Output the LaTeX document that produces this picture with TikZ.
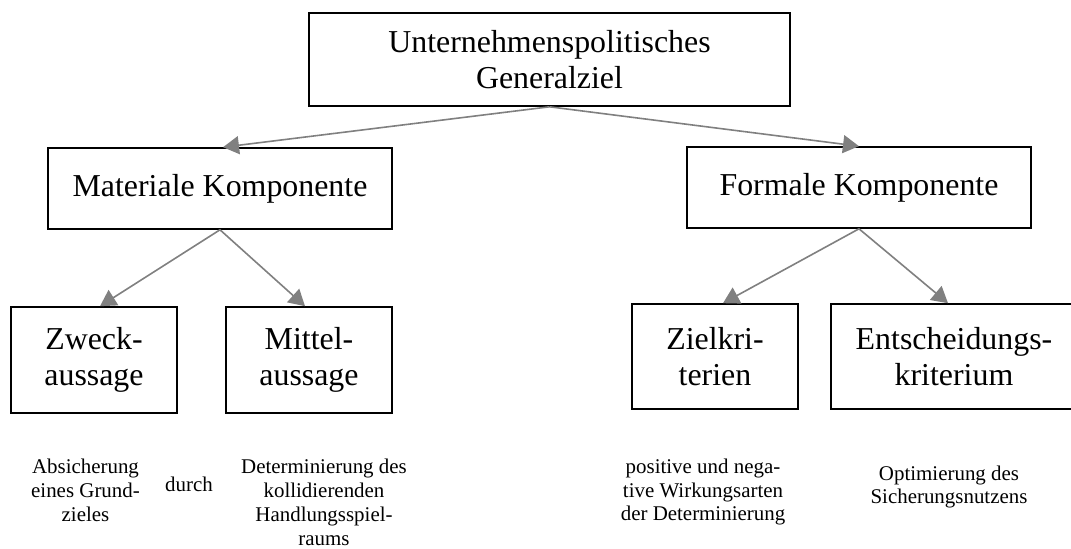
\documentclass[tikz,border=0pt]{standalone}
\usepackage{fontspec}
\setmainfont{Liberation Serif}
\usetikzlibrary{arrows.meta}
\begin{document}
\begin{tikzpicture}[x=1bp,y=-1bp,
  bx/.style={draw=black, line width=1.6bp, inner sep=0pt, align=center,
    font=\fontsize{32}{36}\selectfont},
  lbl/.style={inner sep=0pt, align=center, font=\fontsize{21}{24}\selectfont},
  conn/.style={draw=gray, line width=1.6bp, -{Triangle[length=16bp,width=18bp]}}]
\clip (0,0) rectangle (1071,549);
\fill[white] (0,0) rectangle (1071,549);
% boxes
\node[bx, minimum width=481bp, minimum height=93bp] (top) at (549.5,59.5) {Unternehmenspolitisches\\Generalziel};
\node[bx, minimum width=344bp, minimum height=81bp] (mat) at (220,188.5) {Materiale Komponente};
\node[bx, minimum width=344bp, minimum height=81bp] (form) at (859,187.5) {Formale Komponente};
\node[bx, minimum width=166bp, minimum height=106bp] (zweck) at (94,360) {Zweck-\\aussage};
\node[bx, minimum width=166bp, minimum height=106bp] (mittel) at (309,360) {Mittel-\\aussage};
\node[bx, minimum width=166bp, minimum height=105bp] (ziel) at (715,356.5) {Zielkri-\\terien};
\node[bx, minimum width=246bp, minimum height=105bp] (ents) at (954,356.5) {Entscheidungs-\\kriterium};
% connectors
\draw[conn] (top.south) -- ([xshift=3bp]mat.north);
\draw[conn] (top.south) -- (form.north);
\draw[conn] (mat.south) -- ([xshift=6bp]zweck.north);
\draw[conn] (mat.south) -- ([xshift=-4bp]mittel.north);
\draw[conn] (form.south) -- ([xshift=8bp]ziel.north);
\draw[conn] (form.south) -- ([xshift=-6bp]ents.north);
% labels
\node[lbl] (abs) at (85.5,490) {Absicherung\\eines Grund-\\zieles};
\node[lbl] (durch) at (189,484) {durch};
\node[lbl] (det) at (324,502) {Determinierung des\\kollidierenden\\Handlungsspiel-\\raums};
\node[lbl] (pos) at (703,492) {positive und nega-\\tive Wirkungsarten\\der Determinierung};
\node[lbl] (opt) at (949,487) {Optimierung des\\Sicherungsnutzens};
\end{tikzpicture}
\end{document}
